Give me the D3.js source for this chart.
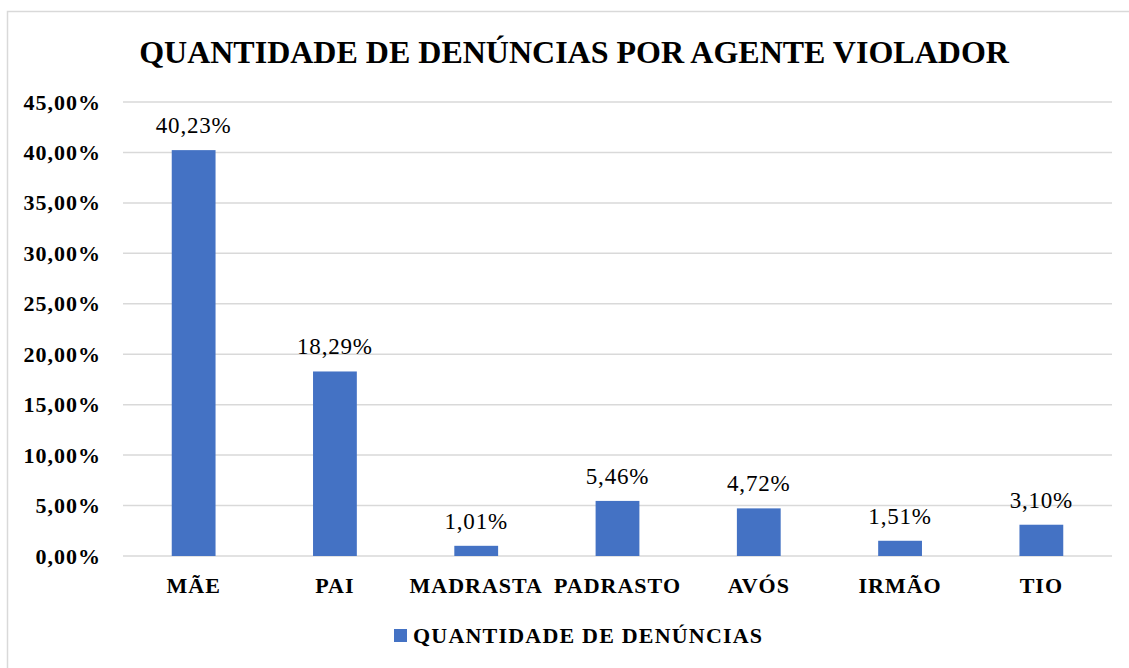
<!DOCTYPE html>
<html>
<head>
<meta charset="utf-8">
<script src="https://cdn.jsdelivr.net/npm/d3@7"></script>
<style>
  body { margin: 0; background: #fff; }
  svg text { font-family: "Liberation Serif", "Times New Roman", serif !important; }
</style>
</head>
<body>
<svg id="chart"></svg>
<script>
// data
const categories = ["MÃE", "PAI", "MADRASTA", "PADRASTO", "AVÓS", "IRMÃO", "TIO"];
const values = [40.23, 18.29, 1.01, 5.46, 4.72, 1.51, 3.10];
const yTicks = [0, 5, 10, 15, 20, 25, 30, 35, 40, 45];
const seriesName = "QUANTIDADE DE DENÚNCIAS";
const title = "QUANTIDADE DE DENÚNCIAS POR AGENTE VIOLADOR";

const W = 1129, H = 668;
const margin = { top: 102, right: 17, bottom: 112, left: 123 };
const serif = "'Liberation Serif', 'Times New Roman', serif";

const svg = d3.select("#chart").attr("width", W).attr("height", H);

// outer frame
svg.append("rect")
  .attr("x", 7.5).attr("y", 11.5)
  .attr("width", W).attr("height", H)
  .attr("fill", "none")
  .attr("stroke", "#d9d9d9")
  .attr("stroke-width", 1.5);

const x = d3.scaleBand()
  .domain(categories)
  .range([margin.left, W - margin.right])
  .paddingInner(0.69).paddingOuter(0.345);

const y = d3.scaleLinear()
  .domain([0, 45])
  .range([H - margin.bottom, margin.top]);

const fmt = v => v.toFixed(2).replace(".", ",") + "%";

// gridlines
svg.append("g")
  .selectAll("line")
  .data(yTicks)
  .join("line")
  .attr("x1", margin.left).attr("x2", W - margin.right)
  .attr("y1", d => y(d)).attr("y2", d => y(d))
  .attr("stroke", "#d9d9d9")
  .attr("stroke-width", 1.5);

// y axis labels
const yAxis = svg.append("g")
  .attr("transform", `translate(${margin.left},0)`)
  .call(d3.axisLeft(y).tickValues(yTicks).tickSize(0).tickPadding(22).tickFormat(fmt));
yAxis.select(".domain").remove();
yAxis.attr("font-family", null);
yAxis.selectAll("text")
  .style("font-family", serif)
  .style("letter-spacing", "1px")
  .attr("font-weight", "bold")
  .attr("font-size", "22px")
  .attr("fill", "#000");

// bars
svg.append("g")
  .selectAll("rect")
  .data(values)
  .join("rect")
  .attr("x", (d, i) => x(categories[i]))
  .attr("y", d => y(d))
  .attr("width", x.bandwidth())
  .attr("height", d => y(0) - y(d))
  .attr("fill", "#4472c4");

// value labels
svg.append("g")
  .selectAll("text")
  .data(values)
  .join("text")
  .attr("x", (d, i) => x(categories[i]) + x.bandwidth() / 2)
  .attr("y", d => y(d) - 17)
  .attr("text-anchor", "middle")
  .style("font-family", serif)
  .style("letter-spacing", "0.8px")
  .attr("font-size", "23px")
  .attr("fill", "#000")
  .text(fmt);

// x axis labels
const xAxis = svg.append("g")
  .attr("transform", `translate(0,${y(0)})`)
  .call(d3.axisBottom(x).tickSize(0).tickPadding(21));
xAxis.select(".domain").remove();
xAxis.attr("font-family", null);
xAxis.selectAll("text")
  .style("font-family", serif)
  .style("letter-spacing", "1px")
  .attr("font-weight", "bold")
  .attr("font-size", "22px")
  .attr("fill", "#000");

// title
svg.append("text")
  .attr("x", 574)
  .attr("y", 63)
  .attr("text-anchor", "middle")
  .style("font-family", serif)
  .attr("font-weight", "bold")
  .attr("font-size", "32px")
  .attr("fill", "#000")
  .text(title);

// legend
const legend = svg.append("g").attr("transform", "translate(394,629)");
legend.append("rect")
  .attr("width", 13).attr("height", 13)
  .attr("fill", "#4472c4");
legend.append("text")
  .attr("x", 19).attr("y", 14)
  .style("font-family", serif)
  .style("letter-spacing", "1.2px")
  .attr("font-weight", "bold")
  .attr("font-size", "22px")
  .attr("fill", "#000")
  .text(seriesName);
</script>
</body>
</html>
